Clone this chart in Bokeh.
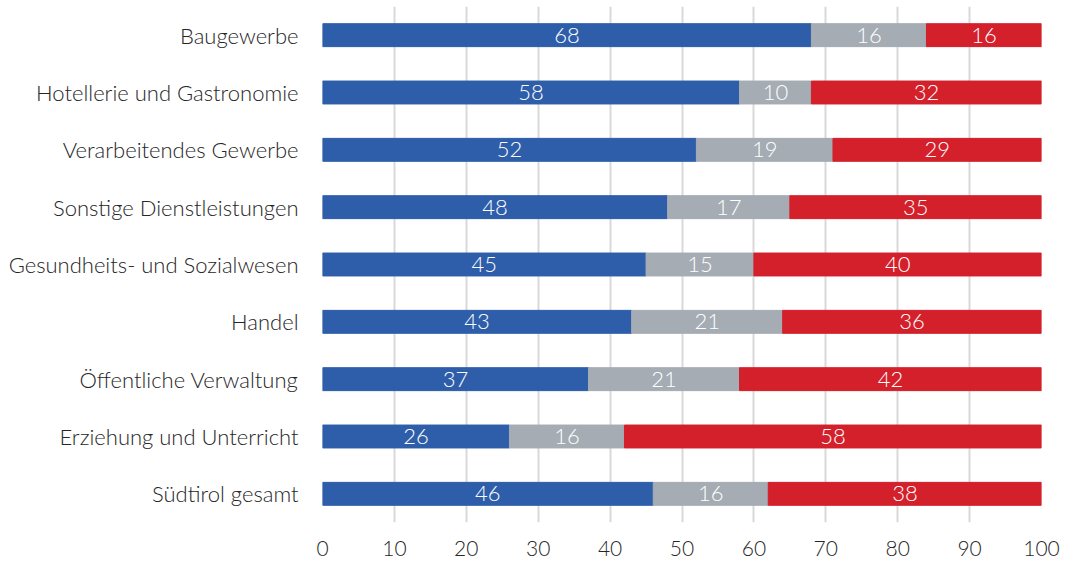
from bokeh.plotting import figure
from bokeh.models import ColumnDataSource, FactorRange, Range1d, FixedTicker
from bokeh.core.properties import value
from bokeh.embed import file_html
from bokeh.resources import INLINE

categories = ["Baugewerbe", "Hotellerie und Gastronomie", "Verarbeitendes Gewerbe",
              "Sonstige Dienstleistungen", "Gesundheits- und Sozialwesen", "Handel",
              "Öffentliche Verwaltung", "Erziehung und Unterricht", "Südtirol gesamt"]
blue_vals = [68, 58, 52, 48, 45, 43, 37, 26, 46]
grey_vals = [16, 10, 19, 17, 15, 21, 21, 16, 16]
red_vals = [16, 32, 29, 35, 40, 36, 42, 58, 38]
x_ticks = [0, 10, 20, 30, 40, 50, 60, 70, 80, 90, 100]

FONT = "Lato Light"
COLORS = ["#2e5eaa", "#a5acb4", "#d3202b"]

src = ColumnDataSource(dict(
    cat=categories, blue=blue_vals, grey=grey_vals, red=red_vals,
))

p = figure(width=1060, height=562, output_backend="svg", toolbar_location=None,
           y_range=FactorRange(factors=list(reversed(categories))),
           x_range=Range1d(0, 100),
           min_border_left=322, min_border_right=19, min_border_top=6, min_border_bottom=40)
p.outline_line_color = None

p.hbar_stack(["blue", "grey", "red"], y="cat", height=0.4, color=COLORS, source=src)

# labels centered in each segment
lx, ly, lt = [], [], []
for c, b, g, r in zip(categories, blue_vals, grey_vals, red_vals):
    for start, v in ((0, b), (b, g), (b + g, r)):
        lx.append(start + v / 2)
        ly.append(c)
        lt.append(str(v))
p.text(x=lx, y=ly, text=lt, text_align="center", text_baseline="middle",
       text_color="white", text_font=value(FONT), text_font_size="22px")

p.ygrid.grid_line_color = None
p.xgrid.grid_line_color = "#d9d9d9"
p.xgrid.grid_line_width = 2
p.xaxis.ticker = FixedTicker(ticks=x_ticks)

for ax in (p.xaxis[0], p.yaxis[0]):
    ax.axis_line_color = None
    ax.major_tick_line_color = None
    ax.minor_tick_line_color = None
    ax.major_label_text_font = FONT
    ax.major_label_text_color = "#262626"
p.yaxis.major_label_text_font_size = "22px"
p.xaxis.major_label_text_font_size = "21px"
p.yaxis.major_label_standoff = 18
p.xaxis.major_label_standoff = 12

open("out.html", "w").write(file_html(p, INLINE))
